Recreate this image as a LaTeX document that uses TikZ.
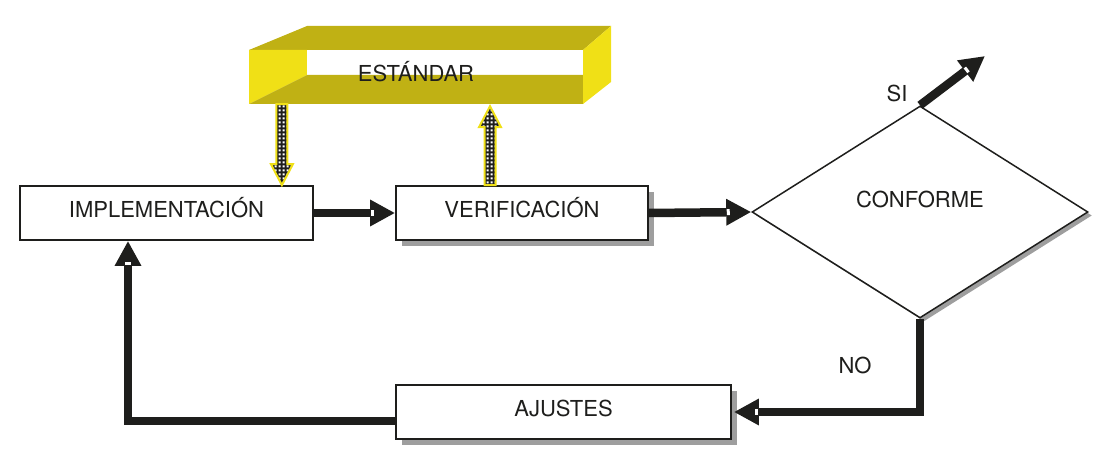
\documentclass[tikz,border=0pt]{standalone}
\usepackage{fontspec}
\setmainfont{TeX Gyre Heros}
\usetikzlibrary{arrows.meta,shapes.geometric,calc,patterns,decorations.markings,shadows}
\definecolor{ink}{RGB}{30,30,28}
\definecolor{olivey}{RGB}{192,177,20}
\definecolor{hyellow}{RGB}{240,224,22}
\definecolor{shade}{RGB}{158,158,158}
\pgfdeclarepatternformonly{wsquares}{\pgfpointorigin}{\pgfqpoint{3.6pt}{3.6pt}}{\pgfqpoint{3.6pt}{3.6pt}}{%
  \pgfpathrectangle{\pgfqpoint{0.8pt}{0.8pt}}{\pgfqpoint{2pt}{2pt}}\pgfusepath{fill}}
\newcommand\hatcharrow[2]{%
  \coordinate (hbase) at ($(#2)!21pt!(#1)$);
  \path[hatchfill] ($(#1)!5.5pt!90:(#2)$) -- ($(hbase)!5.5pt!-90:(#1)$) -- ($(hbase)!11pt!-90:(#1)$) -- (#2) -- ($(hbase)!11pt!90:(#1)$) -- ($(hbase)!5.5pt!90:(#1)$) -- ($(#1)!5.5pt!-90:(#2)$) -- cycle;}
\begin{document}
\begin{tikzpicture}[x=1pt,y=-1pt,
  txt/.style={font=\fontsize{22}{26}\selectfont, text=ink, inner sep=0pt},
  box/.style={draw=ink, line width=1.8pt, fill=white, minimum height=54pt, inner sep=0pt,
     font=\fontsize{22}{26}\selectfont, text=ink, text height=15.5pt, text depth=6.5pt},
  shadowed/.style={drop shadow={shadow xshift=5.5pt, shadow yshift=-5.5pt, fill=shade, opacity=1}},
  flow/.style={draw=ink, line width=8.5pt, -{Triangle[length=25pt,width=25pt]},
     postaction={decorate, decoration={markings, mark=at position -23pt with {\fill[white] (-1.5pt,-3pt) rectangle (1.5pt,3pt);}}}},
  hatchfill/.style={preaction={fill=ink}, pattern=wsquares, pattern color=white, draw=hyellow, line width=2pt, line join=miter},
  olivefill/.style={fill=olivey},
  yellowfill/.style={fill=hyellow}
]
\useasboundingbox (0,0) rectangle (1099,468);

% 3D frame of ESTANDAR
\fill[olivefill] (249,50) -- (307,26) -- (611,26) -- (583,50) -- cycle;
\fill[yellowfill] (249,50) -- (307,50) -- (307,75) -- (249,104) -- cycle;
\fill[white] (307,50) rectangle (583,75);
\fill[olivefill] (249,104) -- (307,75) -- (583,75) -- (583,104) -- cycle;
\fill[yellowfill] (583,50) -- (611,26) -- (611,82) -- (583,104) -- cycle;
\node[txt, minimum width=334pt, minimum height=54pt, text height=15.5pt, text depth=6.5pt] (est) at (416,77) {ESTÁNDAR};

% boxes
\node[box, minimum width=293pt] (impl) at (166.5,213) {IMPLEMENTACIÓN};
\node[box, shadowed, minimum width=252pt] (verif) at (522,213) {VERIFICACIÓN};
\node[box, shadowed, minimum width=335pt] (aj) at (563.5,412) {AJUSTES};
\node[diamond, draw=ink, line width=1.5pt, fill=white, minimum width=336pt, minimum height=212pt, inner sep=0pt,
  drop shadow={shadow xshift=4pt, shadow yshift=-3.5pt, fill=shade, opacity=1}] (dia) at (920,212) {};
\node[txt] (conf) at ([yshift=13pt]dia.center) {CONFORME};
\node[txt] (si) at (897,93) {SI};
\node[txt] (no) at (855,365) {NO};
\coordinate (siend) at (985,56);

% connectors
\draw[flow] (impl.east) -- (verif.west);
\draw[flow] (verif.east) -- (dia.west);
\draw[flow] (dia.north) -- (siend);
\draw[flow] (dia.south) |- ([xshift=2pt]aj.east);
\draw[flow] ([yshift=-9pt]aj.west) -| ([xshift=-38.5pt]impl.south);

% hatched arrows to and from ESTANDAR
\coordinate (h1b) at ([xshift=-32pt]impl.north east);
\coordinate (h1a) at (est.south -| h1b);
\hatcharrow{h1a}{h1b}
\coordinate (h2a) at ([xshift=-32pt]verif.north);
\coordinate (h2b) at ([yshift=-2pt]est.south -| h2a);
\hatcharrow{h2a}{h2b}
\end{tikzpicture}
\end{document}
